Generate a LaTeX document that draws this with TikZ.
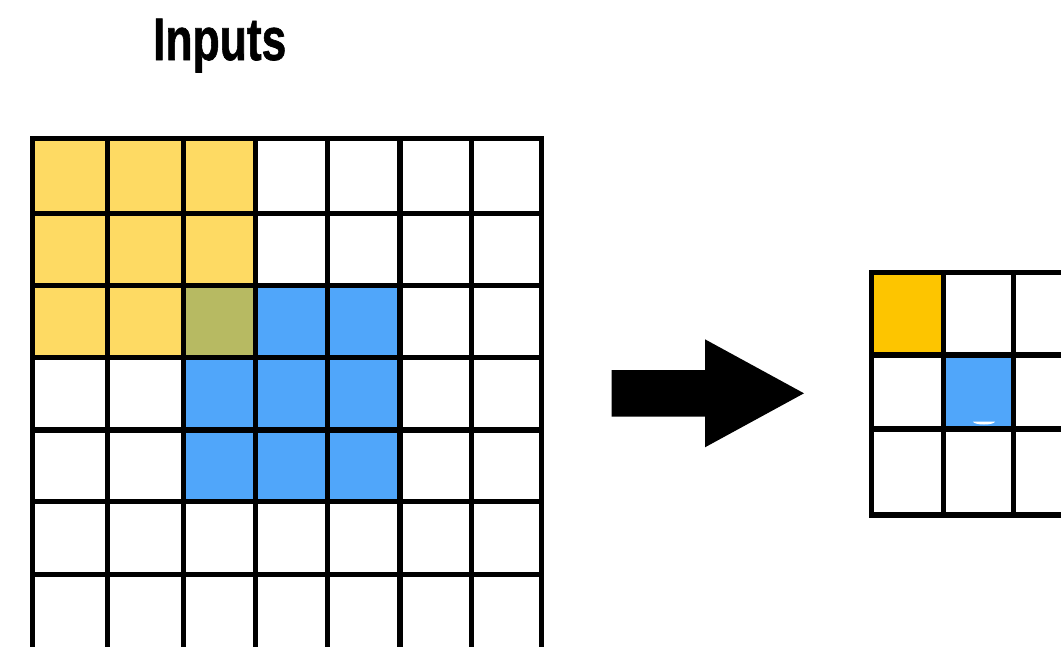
\documentclass[tikz,border=0pt]{standalone}
\usepackage{fontspec}
\setmainfont{Liberation Sans}
\newfontfamily\titlefont[FakeBold=1.2]{Liberation Sans Bold}
\usepackage{graphicx}
\definecolor{cellyellow}{RGB}{254,218,99}
\definecolor{cellolive}{RGB}{183,186,98}
\definecolor{cellblue}{RGB}{80,166,250}
\definecolor{cellorange}{RGB}{253,197,0}
\tikzset{
  gridline/.style={line width=5.3pt, line cap=rect, draw=black},
  bigarrow/.style={fill=black},
  titletext/.style={anchor=base, inner sep=0pt, font=\titlefont\fontsize{60}{62}\selectfont}
}
\begin{document}
\begin{tikzpicture}[x=1pt,y=-1pt]
\useasboundingbox (0,0) rectangle (1061,646);
\clip (0,0) rectangle (1061,646);
% title
\node[titletext] (title) at (219.7,60) {\scalebox{0.74}[1]{Inputs}};
% left grid fills
\fill[cellyellow] (32.3,138.3) rectangle (255.7,285.7);
\fill[cellyellow] (32.3,285.7) rectangle (183.3,357.7);
\fill[cellblue] (255.7,285.7) rectangle (400,357.7);
\fill[cellblue] (183.3,357.7) rectangle (400,501.7);
\fill[cellolive] (183.3,285.7) rectangle (255.7,357.7);
% left grid lines
\foreach \x in {32.3,107.3,183.3,255.7,327.7,400,471.7,541.7}
  \draw[gridline] (\x,138.3) -- (\x,650);
\foreach \y in {138.3,213.3,285.7,357.7,430,501.7,574.3,650}
  \draw[gridline] (32.3,\y) -- (541.7,\y);
% arrow
\fill[bigarrow] (611.7,370) -- (705,370) -- (705,339.3) -- (804,393.3)
  -- (705,447.3) -- (705,416.7) -- (611.7,416.7) -- cycle;
% right grid fills
\fill[cellorange] (871.3,272.7) rectangle (943.3,355);
\fill[cellblue] (943.3,355) rectangle (1013.3,429);
\fill[white] (973,421.5) arc[start angle=180, end angle=0, x radius=11, y radius=3] -- cycle;
% right grid lines
\foreach \x in {871.3,943.3,1013.3,1085}
  \draw[gridline] (\x,272.7) -- (\x,515);
\foreach \y in {272.7,355,429,515}
  \draw[gridline] (871.3,\y) -- (1085,\y);
\end{tikzpicture}
\end{document}
